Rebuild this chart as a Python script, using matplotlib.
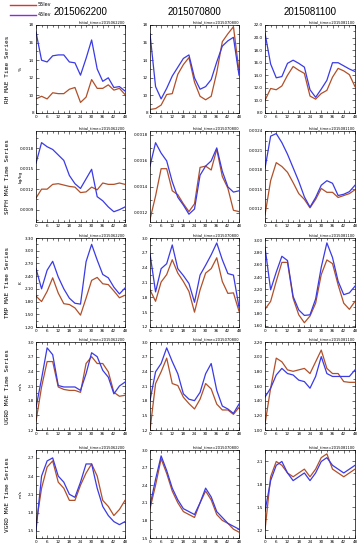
import numpy as np
import matplotlib
matplotlib.use("Agg")
import matplotlib.pyplot as plt
from matplotlib.ticker import MultipleLocator, FormatStrFormatter

# forecast hours
hours = [0, 3, 6, 9, 12, 15, 18, 21, 24, 27, 30, 33, 36, 39, 42, 45, 48]
init_times = ["2015062200", "2015070800", "2015081100"]
var_names = ["RH", "SPFH", "TMP", "UGRD", "VGRD"]
var_units = ["%", "kg/kg", "K", "m/s", "m/s"]

# ---- RH ----
rh_55_c1 = [9.6, 9.9, 9.6, 10.3, 10.2, 10.2, 10.7, 10.9, 9.2, 9.8, 11.8, 10.8, 10.8, 11.2, 10.6, 10.8, 10.1]
rh_45_c1 = [17.2, 14.0, 13.8, 14.5, 14.6, 14.6, 13.8, 13.7, 12.3, 14.2, 16.3, 13.0, 11.6, 12.0, 10.9, 11.0, 10.5]
rh_55_c2 = [8.4, 8.5, 8.9, 10.1, 10.2, 12.4, 13.5, 14.3, 11.5, 9.9, 9.5, 9.9, 12.6, 16.1, 17.0, 17.8, 12.8]
rh_45_c2 = [17.0, 11.0, 9.6, 10.8, 12.2, 13.2, 14.2, 14.6, 12.0, 10.7, 11.0, 11.8, 13.8, 15.6, 16.2, 16.6, 12.3]
rh_55_c3 = [10.0, 11.9, 11.7, 12.3, 14.0, 15.4, 14.8, 14.3, 10.7, 10.2, 11.1, 11.6, 13.7, 15.1, 14.7, 14.1, 12.2]
rh_45_c3 = [20.7, 15.8, 13.6, 13.8, 15.9, 16.4, 15.9, 15.3, 11.7, 10.5, 11.8, 13.2, 16.0, 16.0, 15.5, 15.0, 14.6]

# ---- SPFH ----
spfh_55_c1 = [0.00107, 0.00120, 0.00120, 0.00127, 0.00128, 0.00126, 0.00124, 0.00123, 0.00115, 0.00116,
              0.00123, 0.00119, 0.00129, 0.00127, 0.00127, 0.00129, 0.00127]
spfh_45_c1 = [0.00158, 0.00188, 0.00182, 0.00178, 0.00170, 0.00162, 0.00140, 0.00128, 0.00121, 0.00135,
              0.00149, 0.00109, 0.00103, 0.00094, 0.00087, 0.00090, 0.00094]
spfh_55_c2 = [0.00115, 0.00133, 0.00154, 0.00154, 0.00137, 0.00134, 0.00127, 0.00121, 0.00127, 0.00155,
              0.00156, 0.00153, 0.00169, 0.00148, 0.00139, 0.00122, 0.00121]
spfh_45_c2 = [0.00156, 0.00174, 0.00166, 0.00160, 0.00144, 0.00132, 0.00126, 0.00119, 0.00123, 0.00149,
              0.00156, 0.00160, 0.00170, 0.00152, 0.00140, 0.00136, 0.00137]
spfh_55_c3 = [0.00110, 0.00163, 0.00191, 0.00185, 0.00176, 0.00160, 0.00143, 0.00134, 0.00121, 0.00134,
              0.00151, 0.00145, 0.00145, 0.00137, 0.00140, 0.00143, 0.00149]
spfh_45_c3 = [0.00182, 0.00232, 0.00236, 0.00222, 0.00204, 0.00183, 0.00162, 0.00138, 0.00122, 0.00137,
              0.00156, 0.00163, 0.00159, 0.00140, 0.00142, 0.00146, 0.00156]

# ---- TMP ----
tmp_55_c1 = [1.93, 1.80, 2.04, 2.36, 2.00, 1.75, 1.73, 1.65, 1.48, 1.88, 2.30, 2.37, 2.22, 2.20, 2.05, 1.89, 1.95]
tmp_45_c1 = [2.58, 2.10, 2.54, 2.75, 2.38, 2.10, 1.88, 1.76, 1.74, 2.74, 3.15, 2.78, 2.44, 2.36, 2.14, 1.98, 2.12]
tmp_55_c2 = [1.95, 1.72, 2.11, 2.26, 2.56, 2.29, 2.12, 1.92, 1.50, 1.95, 2.29, 2.38, 2.60, 2.12, 1.88, 1.89, 1.52]
tmp_45_c2 = [2.68, 1.91, 2.38, 2.48, 2.86, 2.38, 2.24, 2.08, 1.70, 2.25, 2.45, 2.66, 2.90, 2.56, 2.28, 2.25, 1.60]
tmp_55_c3 = [1.87, 2.00, 2.33, 2.64, 2.64, 2.05, 1.78, 1.65, 1.76, 1.97, 2.44, 2.68, 2.62, 2.27, 1.97, 1.87, 2.00]
tmp_45_c3 = [2.89, 2.19, 2.48, 2.74, 2.67, 2.08, 1.86, 1.77, 1.78, 2.04, 2.56, 2.96, 2.72, 2.33, 2.11, 2.14, 2.25]

# ---- UGRD ----
ugrd_55_c1 = [1.38, 2.08, 2.60, 2.60, 2.08, 2.03, 2.01, 2.01, 1.97, 2.56, 2.70, 2.56, 2.56, 2.39, 1.97, 1.89, 1.91]
ugrd_45_c1 = [1.66, 2.25, 2.88, 2.74, 2.11, 2.08, 2.08, 2.08, 2.01, 2.35, 2.78, 2.70, 2.42, 2.28, 1.94, 2.10, 2.18]
ugrd_55_c2 = [1.20, 2.15, 2.39, 2.67, 2.15, 2.11, 1.87, 1.74, 1.63, 1.83, 2.15, 2.04, 1.73, 1.61, 1.61, 1.52, 1.66]
ugrd_45_c2 = [1.80, 2.39, 2.56, 2.88, 2.60, 2.35, 1.94, 1.83, 1.80, 1.97, 2.35, 2.56, 2.01, 1.69, 1.63, 1.54, 1.73]
ugrd_55_c3 = [1.08, 1.57, 1.98, 1.93, 1.82, 1.80, 1.82, 1.84, 1.77, 1.93, 2.09, 1.84, 1.77, 1.77, 1.66, 1.65, 1.65]
ugrd_45_c3 = [1.45, 1.57, 1.75, 1.84, 1.77, 1.75, 1.68, 1.66, 1.57, 1.73, 2.00, 1.77, 1.73, 1.73, 1.73, 1.73, 1.82]

# ---- VGRD ----
vgrd_55_c1 = [1.60, 2.20, 2.55, 2.65, 2.30, 2.20, 2.00, 2.00, 2.25, 2.45, 2.60, 2.40, 2.00, 1.90, 1.75, 1.85, 2.00]
vgrd_45_c1 = [1.50, 2.40, 2.65, 2.70, 2.40, 2.30, 2.10, 2.05, 2.30, 2.60, 2.60, 2.20, 1.90, 1.75, 1.65, 1.60, 1.65]
vgrd_55_c2 = [2.00, 2.40, 2.85, 2.60, 2.30, 2.10, 1.95, 1.90, 1.85, 2.10, 2.30, 2.15, 1.90, 1.80, 1.75, 1.65, 1.60]
vgrd_45_c2 = [2.05, 2.50, 2.90, 2.65, 2.35, 2.15, 2.00, 1.95, 1.90, 2.10, 2.35, 2.20, 1.95, 1.85, 1.75, 1.70, 1.65]
vgrd_55_c3 = [1.20, 1.90, 2.10, 2.05, 1.95, 1.90, 1.95, 2.00, 1.90, 2.00, 2.15, 2.20, 2.00, 1.95, 1.90, 1.95, 2.00]
vgrd_45_c3 = [1.45, 1.85, 2.05, 2.10, 1.95, 1.85, 1.90, 1.95, 1.85, 1.95, 2.10, 2.15, 2.05, 2.00, 1.95, 2.00, 2.05]

series_55 = [[rh_55_c1, rh_55_c2, rh_55_c3],
             [spfh_55_c1, spfh_55_c2, spfh_55_c3],
             [tmp_55_c1, tmp_55_c2, tmp_55_c3],
             [ugrd_55_c1, ugrd_55_c2, ugrd_55_c3],
             [vgrd_55_c1, vgrd_55_c2, vgrd_55_c3]]
series_45 = [[rh_45_c1, rh_45_c2, rh_45_c3],
             [spfh_45_c1, spfh_45_c2, spfh_45_c3],
             [tmp_45_c1, tmp_45_c2, tmp_45_c3],
             [ugrd_45_c1, ugrd_45_c2, ugrd_45_c3],
             [vgrd_45_c1, vgrd_45_c2, vgrd_45_c3]]

# axis settings per panel: (ymin, ymax, tick step, format)
yaxis = [[(8, 18, 2, "%d"), (8, 18, 2, "%d"), (8, 22, 2, "%.1f")],
         [(0.00072, 0.00205, 0.0003, "%.4f"), (0.00113, 0.00183, 0.0002, "%.4f"), (0.00099, 0.0024, 0.0003, "%.4f")],
         [(1.2, 3.3, 0.3, "%.2f"), (1.2, 3.0, 0.3, "%.1f"), (1.58, 3.04, 0.2, "%.2f")],
         [(1.2, 3.0, 0.3, "%.1f"), (1.2, 3.0, 0.3, "%.1f"), (1.0, 2.2, 0.2, "%.2f")],
         [(1.38, 2.83, 0.3, "%.1f"), (1.5, 3.0, 0.3, "%.1f"), (1.1, 2.25, 0.3, "%.1f")]]

COLOR_55 = "#b0502a"
COLOR_45 = "#3a3ae6"

W, H = 361, 550
fig = plt.figure(figsize=(W / 100, H / 100), dpi=100)

col_left = [36, 150, 265]
col_width = [89, 89, 90]
row_top = [25, 131, 238, 342, 450]
row_height = [88, 91, 89, 88, 88]

for r in range(5):
    for c in range(3):
        ax = fig.add_axes([col_left[c] / W, 1 - (row_top[r] + row_height[r]) / H,
                           col_width[c] / W, row_height[r] / H])
        ax.plot(hours, series_55[r][c], color=COLOR_55, linewidth=0.9)
        ax.plot(hours, series_45[r][c], color=COLOR_45, linewidth=0.9)
        ymin, ymax, step, fmt = yaxis[r][c]
        ax.set_xlim(0, 48)
        ax.set_ylim(ymin, ymax)
        ax.xaxis.set_major_locator(MultipleLocator(6))
        ax.xaxis.set_minor_locator(MultipleLocator(3))
        ax.yaxis.set_major_locator(MultipleLocator(step))
        ax.yaxis.set_minor_locator(MultipleLocator(step / 2))
        ax.yaxis.set_major_formatter(FormatStrFormatter(fmt))
        ax.tick_params(which="both", direction="in", top=True, right=True,
                       labelsize=3, pad=1.5, width=0.4)
        ax.tick_params(which="major", length=2.2)
        ax.tick_params(which="minor", length=1.2)
        for sp in ax.spines.values():
            sp.set_linewidth(0.5)
        ax.text(1.0, 1.01, "Initial_time=" + init_times[c], transform=ax.transAxes,
                ha="right", va="bottom", fontsize=2.6)
        if r == 0:
            ax.text(0.5, 1.0 + 13 / row_height[r], init_times[c], transform=ax.transAxes,
                    ha="center", va="center", fontsize=7, family="Liberation Sans")

    # row label and units
    yc = 1 - (row_top[r] + row_height[r] / 2) / H
    fig.text(8 / W, yc, var_names[r] + " MAE Time Series", rotation=90, ha="center", va="center",
             fontsize=4.4, family="DejaVu Sans Mono")
    fig.text(21 / W, yc, var_units[r], rotation=90, ha="center", va="center", fontsize=3.2)

# legend in the upper left corner
fig.lines.append(plt.Line2D([10 / W, 36 / W], [1 - 5 / H, 1 - 5 / H], color="#e03030",
                            linewidth=1.0, transform=fig.transFigure))
fig.lines.append(plt.Line2D([10 / W, 36 / W], [1 - 15 / H, 1 - 15 / H], color="#8a2be2",
                            linewidth=1.0, transform=fig.transFigure))
fig.text(38 / W, 1 - 5 / H, "55lev", ha="left", va="center", fontsize=3.5)
fig.text(38 / W, 1 - 15 / H, "45lev", ha="left", va="center", fontsize=3.5)

fig.savefig("out.png", dpi=100)
